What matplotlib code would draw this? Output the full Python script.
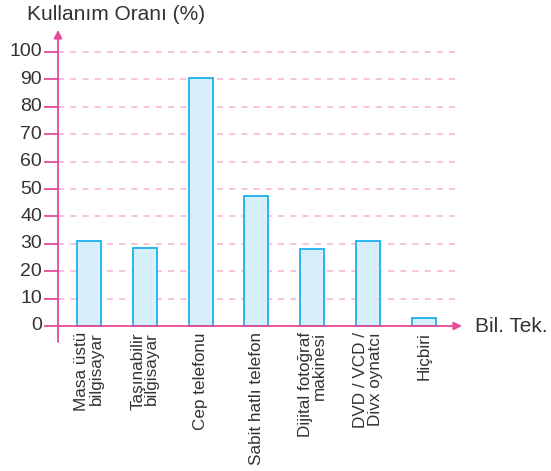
import matplotlib
matplotlib.use("Agg")
import matplotlib.pyplot as plt

categories = ["Masa üstü\nbilgisayar", "Taşınabilir\nbilgisayar", "Cep telefonu",
              "Sabit hatlı telefon", "Dijital fotoğraf\nmakinesi", "DVD / VCD /\nDivx oynatcı", "Hiçbiri"]
values = [31, 28.5, 90.5, 47.5, 28, 31, 3]
yticks = [0, 10, 20, 30, 40, 50, 60, 70, 80, 90, 100]
ylabel = "Kullanım Oranı (%)"
xlabel = "Bil. Tek."

plt.rcParams['font.family'] = ['Liberation Sans', 'DejaVu Sans']
W, H = 551, 471
fig = plt.figure(figsize=(W/100, H/100), dpi=100)

# axes in pixel coordinates: left 58, right 470, top 30, bottom 342
x0, x1, ytop, ybot = 58, 470, 30, 342
ax = fig.add_axes([x0/W, 1-ybot/H, (x1-x0)/W, (ybot-ytop)/H])
px_per_cat = 55.8
px_per_unit = 2.74
xl0 = (58-89)/px_per_cat
xl1 = xl0 + (x1-x0)/px_per_cat
yl0 = -(ybot-326)/px_per_unit
yl1 = (326-ytop)/px_per_unit
ax.set_xlim(xl0, xl1)
ax.set_ylim(yl0, yl1)
for s in ax.spines.values():
    s.set_visible(False)
ax.set_xticks([])
ax.set_yticks([])
ax.patch.set_alpha(0)

pink = '#e8489a'
gridc = '#f7b3d2'
xg_end = (460-89)/px_per_cat

for t in yticks[1:]:
    ax.plot([xl0, xg_end], [t, t], color=gridc, lw=1.1, ls=(0, (4, 4)), zorder=1)

xs = list(range(len(categories)))
ax.bar(xs, values, width=24/px_per_cat, color='#d7eefb', edgecolor='#2bb5ee', lw=1.4, zorder=3)

# axes with arrows
ax.annotate('', xy=(xl0, yl1), xytext=(xl0, yl0),
            arrowprops=dict(arrowstyle='-|>', color=pink, lw=1.3, mutation_scale=12, shrinkA=0, shrinkB=0),
            annotation_clip=False, zorder=4)
ax.annotate('', xy=((462-89)/px_per_cat, 0), xytext=(xl0, 0),
            arrowprops=dict(arrowstyle='-|>', color=pink, lw=1.3, mutation_scale=12, shrinkA=0, shrinkB=0),
            annotation_clip=False, zorder=4)

# tick marks and labels
for t in yticks:
    ax.plot([xl0 - 13/px_per_cat, xl0], [t, t], color=pink, lw=1.3, clip_on=False, zorder=4)
    ax.text(xl0 - 16/px_per_cat, t, str(t), ha='right', va='center', fontsize=14, color='#333333')

for x, c in zip(xs, categories):
    ax.text(x, -2.2, c, rotation=90, ha='center', va='top', multialignment='right',
            fontsize=12.3, color='#333333', linespacing=0.92)

fig.text(27/W, 1-15/H, ylabel, ha='left', va='center', fontsize=15, color='#333333')
fig.text(475/W, 1-327/H, xlabel, ha='left', va='center', fontsize=15, color='#333333')

fig.savefig('out.png', dpi=100)
